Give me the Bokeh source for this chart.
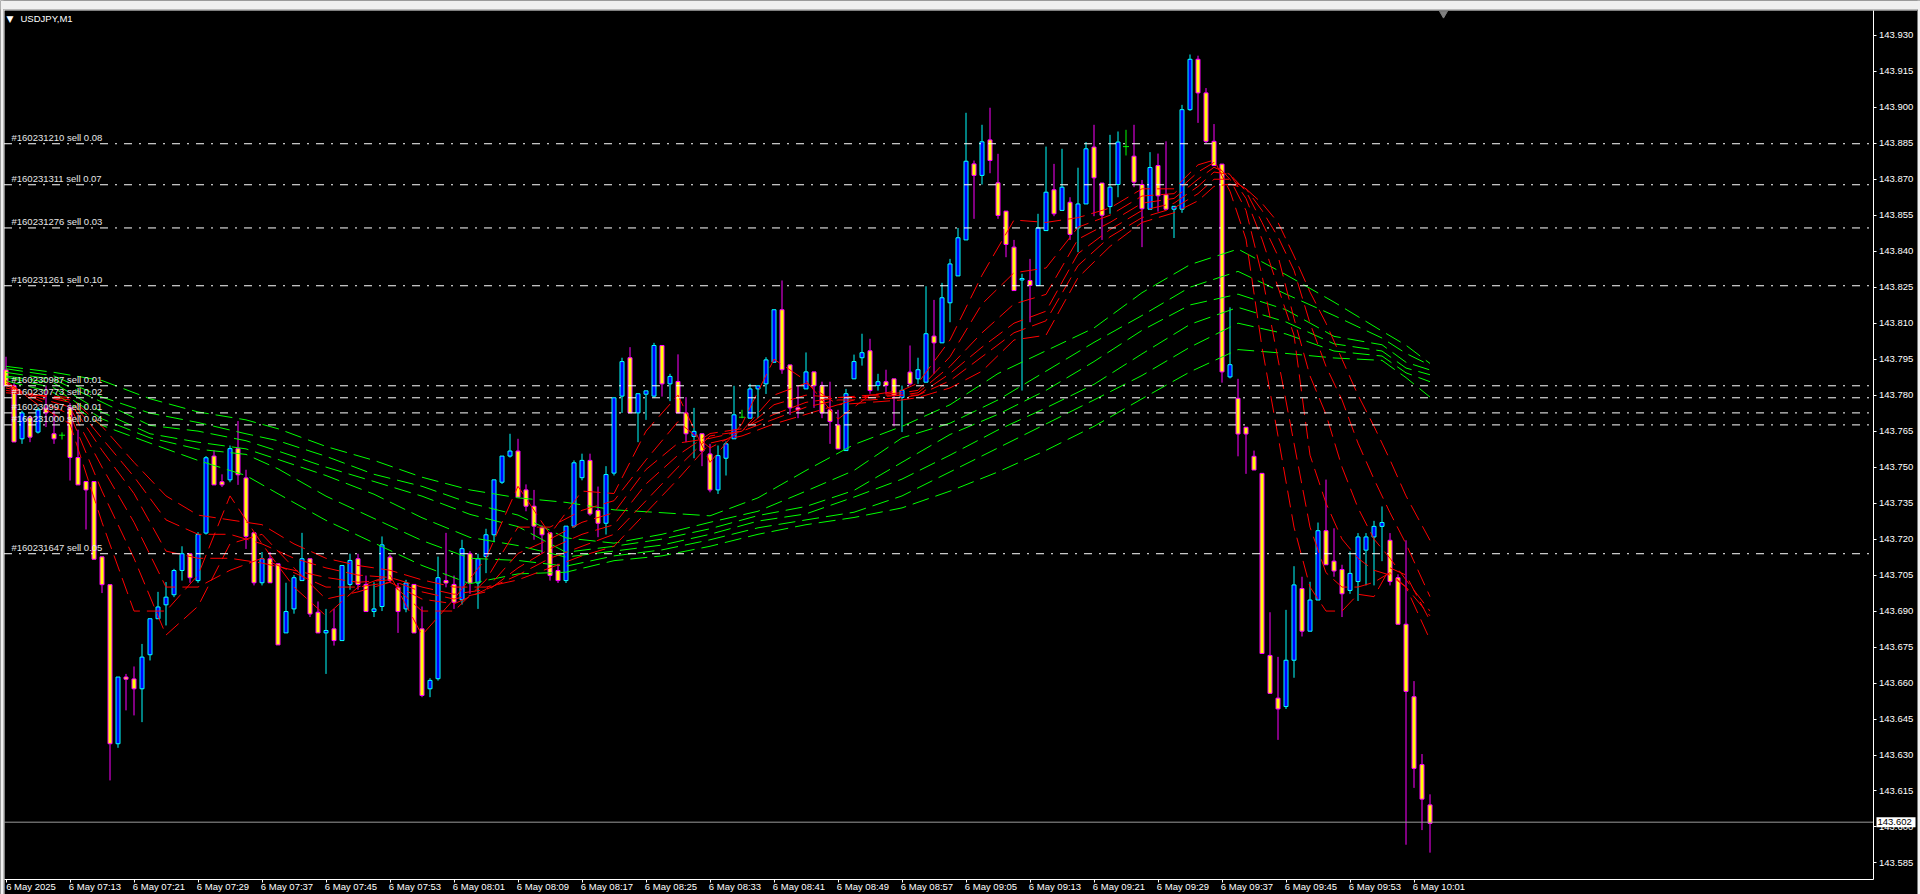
from bokeh.plotting import figure
from bokeh.models import (Range1d, FixedTicker, PrintfTickFormatter, Label, LinearAxis,
                          BoxAnnotation)
from bokeh.models import ColumnDataSource
from bokeh.embed import file_html
from bokeh.resources import INLINE

# ---------------- DATA ----------------
symbol_title = "USDJPY,M1"

opens = [
143.7905,143.7840,143.7618,143.7706,143.7646,143.7746,143.7639,143.7633,143.7747,143.7540,
143.7440,143.7440,143.7126,143.7010,143.6347,143.6625,143.6617,143.6576,143.6718,143.6868,
143.6926,143.6968,143.7069,143.7139,143.7027,143.7225,143.7546,143.7439,143.7447,143.7577,
143.7455,143.7226,143.7018,143.7118,143.7097,143.6809,143.6909,143.7027,143.7118,143.6895,
143.6809,143.6826,143.6777,143.7011,143.7118,143.7011,143.6898,143.6919,143.7125,143.6997,
143.6909,143.7011,143.6826,143.6576,143.6618,143.7027,143.7011,143.6947,143.7139,143.7017,
143.7127,143.7218,143.7437,143.7546,143.7567,143.7405,143.7337,143.7247,143.7226,143.7069,
143.7027,143.7254,143.7456,143.7528,143.7319,143.7266,143.7475,143.7796,143.7956,143.7726,
143.7804,143.7796,143.8007,143.7847,143.7857,143.7726,143.7628,143.7639,143.7555,143.7405,
143.7537,143.7618,143.7708,143.7704,143.7826,143.7847,143.7937,143.8156,143.7926,143.7747,
143.7826,143.7897,143.7839,143.7739,143.7676,143.7569,143.7868,143.7956,143.7985,143.7840,
143.7856,143.7868,143.7790,143.7896,143.7868,143.7854,143.8046,143.8018,143.8185,143.8297,
143.8447,143.8764,143.8716,143.8864,143.8685,143.8567,143.8417,143.8280,143.8278,143.8257,
143.8486,143.8656,143.8570,143.8604,143.8497,143.8597,143.8834,143.8684,143.8586,143.8678,
143.8836,143.8796,143.8678,143.8575,143.8757,143.8635,143.8575,143.8575,143.8990,143.9200,
143.9060,143.8858,143.8763,143.7876,143.7787,143.7666,143.7545,143.7474,143.6715,143.6537,
143.6502,143.6695,143.6994,143.6816,143.6946,143.7235,143.7108,143.7073,143.6986,143.7023,
143.7154,143.7209,143.7253,143.7195,143.7039,143.6845,143.6543,143.6260,143.6092]

highs = [
143.7960,143.7850,143.7735,143.7715,143.7750,143.7840,143.7735,143.7645,143.7767,143.7656,
143.7440,143.7440,143.7126,143.7010,143.6625,143.6638,143.6669,143.6763,143.6868,143.6980,
143.7021,143.7076,143.7170,143.7139,143.7229,143.7546,143.7570,143.7470,143.7590,143.7692,
143.7489,143.7226,143.7146,143.7146,143.7097,143.7018,143.7050,143.7226,143.7118,143.6940,
143.6909,143.6909,143.7090,143.7139,143.7139,143.7048,143.7020,143.7211,143.7135,143.7017,
143.7030,143.7011,143.6919,143.6620,143.7127,143.7226,143.7048,143.7197,143.7150,143.7139,
143.7243,143.7447,143.7546,143.7639,143.7618,143.7428,143.7405,143.7257,143.7226,143.7097,
143.7254,143.7528,143.7556,143.7556,143.7419,143.7504,143.7789,143.7956,143.8000,143.7806,
143.7818,143.8018,143.8007,143.7889,143.7970,143.7792,143.7747,143.7639,143.7597,143.7590,
143.7607,143.7839,143.7739,143.7847,143.7839,143.7958,143.8156,143.8278,143.7926,143.7839,
143.7978,143.7897,143.7856,143.7856,143.7739,143.7826,143.7969,143.8056,143.8035,143.7889,
143.7906,143.7868,143.7840,143.8007,143.7956,143.8254,143.8197,143.8268,143.8368,143.8497,
143.8977,143.8778,143.8927,143.8998,143.8806,143.8567,143.8447,143.8306,143.8368,143.8556,
143.8836,143.8764,143.8827,143.8625,143.8748,143.8855,143.8927,143.8684,143.8885,143.8899,
143.8906,143.8927,143.8697,143.8813,143.8807,143.8858,143.8587,143.9010,143.9220,143.9215,
143.9080,143.8930,143.8763,143.8166,143.7868,143.7666,143.7569,143.7474,143.6895,143.6709,
143.6905,143.7087,143.7043,143.7022,143.7269,143.7448,143.7245,143.7093,143.7148,143.7225,
143.7225,143.7276,143.7336,143.7225,143.7053,143.7195,143.6608,143.6304,143.6136]

lows = [
143.7840,143.7605,143.7597,143.7604,143.7640,143.7667,143.7597,143.7615,143.7444,143.7426,
143.7240,143.7115,143.6975,143.6194,143.6330,143.6486,143.6465,143.6437,143.6694,143.6868,
143.6840,143.6958,143.7027,143.7018,143.7018,143.7219,143.7426,143.7417,143.7437,143.7426,
143.7159,143.7007,143.7007,143.7018,143.6759,143.6809,143.6889,143.7027,143.6875,143.6809,
143.6638,143.6756,143.6777,143.6989,143.6989,143.6898,143.6875,143.6900,143.7020,143.6809,
143.6895,143.6809,143.6541,143.6541,143.6610,143.6999,143.6909,143.6927,143.6972,143.6909,
143.7058,143.7187,143.7430,143.7540,143.7375,143.7316,143.7197,143.7139,143.7027,143.7017,
143.7017,143.7247,143.7445,143.7298,143.7208,143.7219,143.7465,143.7726,143.7726,143.7604,
143.7697,143.7790,143.7794,143.7775,143.7726,143.7604,143.7537,143.7504,143.7395,143.7388,
143.7465,143.7618,143.7704,143.7704,143.7704,143.7805,143.7937,143.7889,143.7718,143.7704,
143.7826,143.7747,143.7704,143.7597,143.7576,143.7569,143.7868,143.7923,143.7806,143.7819,
143.7806,143.7670,143.7646,143.7840,143.7847,143.7854,143.7889,143.8018,143.8104,143.8297,
143.8447,143.8535,143.8678,143.8725,143.8535,143.8375,143.8236,143.7819,143.8104,143.8257,
143.8486,143.8546,143.8570,143.8447,143.8396,143.8597,143.8546,143.8447,143.8556,143.8625,
143.8799,143.8667,143.8417,143.8575,143.8565,143.8575,143.8455,143.8560,143.8985,143.8935,
143.8850,143.8757,143.7852,143.7870,143.7545,143.7472,143.7488,143.6723,143.6557,143.6363,
143.6492,143.6622,143.6794,143.6816,143.6946,143.7093,143.7043,143.6875,143.6972,143.6942,
143.7007,143.7007,143.7108,143.7007,143.6845,143.5926,143.6163,143.5987,143.5893]

closes = [
143.7840,143.7605,143.7726,143.7625,143.7738,143.7726,143.7618,143.7633,143.7540,143.7426,
143.7405,143.7116,143.7010,143.6347,143.6625,143.6616,143.6576,143.6708,143.6868,143.6917,
143.6958,143.7069,143.7139,143.7039,143.7219,143.7539,143.7426,143.7426,143.7577,143.7468,
143.7211,143.7018,143.7118,143.7018,143.6759,143.6898,143.7039,143.7118,143.6888,143.6809,
143.6819,143.6777,143.7090,143.7111,143.7011,143.6898,143.6909,143.7176,143.7027,143.6898,
143.7017,143.6809,143.6548,143.6611,143.7039,143.7017,143.6937,143.7160,143.7017,143.7118,
143.7218,143.7447,143.7546,143.7567,143.7375,143.7337,143.7254,143.7218,143.7048,143.7027,
143.7254,143.7518,143.7528,143.7305,143.7266,143.7469,143.7789,143.7940,143.7726,143.7806,
143.7818,143.8007,143.7847,143.7878,143.7726,143.7639,143.7649,143.7567,143.7405,143.7548,
143.7597,143.7718,143.7708,143.7826,143.7839,143.7947,143.8156,143.7906,143.7747,143.7739,
143.7897,143.7839,143.7726,143.7690,143.7576,143.7806,143.7940,143.7977,143.7819,143.7856,
143.7840,143.7799,143.7820,143.7847,143.7906,143.8056,143.8018,143.8206,143.8347,143.8456,
143.8775,143.8716,143.8856,143.8778,143.8549,143.8428,143.8236,143.8286,143.8257,143.8497,
143.8646,143.8556,143.8667,143.8470,143.8597,143.8827,143.8706,143.8550,143.8667,143.8855,
143.8836,143.8688,143.8577,143.8749,143.8631,143.8575,143.8587,143.8990,143.9200,143.9060,
143.8858,143.8757,143.7897,143.7927,143.7638,143.7638,143.7488,143.6723,143.6557,143.6492,
143.6695,143.7009,143.6816,143.6946,143.7235,143.7093,143.7067,143.6972,143.7057,143.7209,
143.7209,143.7253,143.7269,143.7023,143.6845,143.6565,143.6244,143.6116,143.6015]

time_labels = ["6 May 2025", "6 May 07:13", "6 May 07:21", "6 May 07:29", "6 May 07:37",
               "6 May 07:45", "6 May 07:53", "6 May 08:01", "6 May 08:09", "6 May 08:17",
               "6 May 08:25", "6 May 08:33", "6 May 08:41", "6 May 08:49", "6 May 08:57",
               "6 May 09:05", "6 May 09:13", "6 May 09:21", "6 May 09:29", "6 May 09:37",
               "6 May 09:45", "6 May 09:53", "6 May 10:01"]
time_tick_bars = [0, 8, 16, 24, 32, 40, 48, 56, 64, 72, 80, 88, 96, 104, 112, 120,
                  128, 136, 144, 152, 160, 168, 176]

price_ticks = [143.585, 143.600, 143.615, 143.630, 143.645, 143.660, 143.675, 143.690,
               143.705, 143.720, 143.735, 143.750, 143.765, 143.780, 143.795, 143.810,
               143.825, 143.840, 143.855, 143.870, 143.885, 143.900, 143.915, 143.930]

order_prices = [143.8848, 143.8677, 143.8497, 143.8256, 143.7839, 143.7789,
                143.7726, 143.7676, 143.7139]
order_texts = ["#160231210 sell 0.08", "#160231311 sell 0.07", "#160231276 sell 0.03",
               "#160231261 sell 0.10", "#160230987 sell 0.01", "#160230773 sell 0.02",
               "#160230997 sell 0.01", "#160231000 sell 0.04", "#160231647 sell 0.05"]

current_price = 143.602

# short (red) moving averages, sampled at bar indices
red_idx = [0,4,8,12,16,20,24,28,32,36,40,44,48,52,56,60,64,68,72,76,80,84,88,92,96,100,104,
           108,112,114,118,122,126,130,134,138,142,146,149,151,153,155,157,159,161,163,165,
           167,169,171,173,175,178]
red_1 = [143.786,143.776,143.768,143.727,143.690,143.690,143.705,143.738,143.718,143.700,143.688,
         143.700,143.705,143.680,143.695,143.712,143.742,143.722,143.740,143.739,143.765,143.780,
         143.752,143.768,143.795,143.786,143.770,143.780,143.782,143.785,143.803,143.830,143.853,
         143.852,143.854,143.858,143.866,143.866,143.876,143.878,143.865,143.845,143.800,143.763,
         143.725,143.700,143.690,143.690,143.697,143.696,143.708,143.705,143.686]
red_2 = [143.785,143.778,143.772,143.740,143.712,143.680,143.692,143.718,143.722,143.708,143.695,
         143.698,143.702,143.690,143.690,143.703,143.725,143.725,143.732,143.736,143.753,143.769,
         143.758,143.765,143.780,143.785,143.776,143.780,143.781,143.782,143.796,143.818,143.831,
         143.833,143.850,143.855,143.863,143.864,143.873,143.877,143.870,143.857,143.830,143.795,
         143.760,143.725,143.706,143.700,143.700,143.702,143.706,143.700,143.678]
red_3 = [143.784,143.779,143.775,143.750,143.727,143.700,143.700,143.707,143.712,143.706,143.700,
         143.700,143.702,143.695,143.693,143.699,143.714,143.720,143.727,143.731,143.749,143.760,
         143.762,143.765,143.776,143.780,143.779,143.780,143.780,143.781,143.792,143.806,143.818,
         143.822,143.845,143.852,143.860,143.862,143.870,143.875,143.872,143.862,143.845,143.825,
         143.805,143.755,143.735,143.720,143.712,143.707,143.705,143.700,143.688]
red_4 = [143.783,143.780,143.777,143.757,143.739,143.715,143.712,143.712,143.710,143.707,143.704,
         143.702,143.703,143.698,143.695,143.698,143.708,143.716,143.722,143.726,143.743,143.755,
         143.764,143.766,143.772,143.777,143.779,143.779,143.780,143.780,143.789,143.800,143.810,
         143.815,143.839,143.849,143.857,143.860,143.867,143.873,143.872,143.865,143.852,143.838,
         143.812,143.788,143.772,143.750,143.733,143.720,143.712,143.703,143.690]
red_5 = [143.782,143.780,143.778,143.762,143.746,143.728,143.722,143.722,143.718,143.712,143.708,
         143.705,143.704,143.700,143.697,143.699,143.705,143.712,143.717,143.722,143.736,143.750,
         143.763,143.765,143.770,143.775,143.778,143.778,143.779,143.780,143.786,143.796,143.806,
         143.811,143.834,143.846,143.854,143.858,143.864,143.870,143.870,143.866,143.857,143.846,
         143.832,143.810,143.792,143.778,143.760,143.745,143.731,143.718,143.696]
red_6 = [143.781,143.780,143.779,143.767,143.752,143.738,143.730,143.728,143.726,143.718,143.712,
         143.709,143.707,143.703,143.700,143.700,143.703,143.708,143.713,143.717,143.731,143.745,
         143.760,143.763,143.768,143.772,143.776,143.777,143.778,143.779,143.783,143.790,143.803,
         143.805,143.829,143.842,143.852,143.856,143.861,143.867,143.868,143.866,143.860,143.852,
         143.838,143.823,143.810,143.795,143.780,143.767,143.753,143.738,143.7195]

# long (green) moving averages, sampled at bar indices
green_idx = [0,6,12,18,24,30,34,40,46,52,58,64,70,76,82,88,94,100,106,112,118,124,130,136,
             142,148,154,160,166,172,175,178]
green_1 = [143.792,143.7895,143.7861,143.7785,143.773,143.7697,143.766,143.7586,143.7528,143.7458,
           143.7405,143.7372,143.7353,143.7322,143.731,143.7297,143.7372,143.7486,143.7594,143.767,
           143.776,143.789,143.7985,143.808,143.8227,143.8344,143.8409,143.8302,143.8188,143.8067,
           143.8008,143.7932]
green_2 = [143.791,143.788,143.7792,143.7725,143.7686,143.7639,143.761,143.7545,143.747,143.742,
           143.735,143.730,143.7205,143.7183,143.722,143.727,143.7316,143.740,143.7486,143.7622,
           143.7683,143.778,143.790,143.802,143.8132,143.825,143.8316,143.8221,143.8132,143.8038,
           143.7974,143.7925]
green_3 = [143.7895,143.7865,143.7771,143.7674,143.765,143.761,143.7567,143.750,143.744,143.7379,
           143.7303,143.7252,143.7145,143.717,143.720,143.7243,143.7298,143.7336,143.7403,143.752,
           143.7636,143.772,143.782,143.794,143.807,143.8176,143.8221,143.8156,143.8045,143.801,
           143.7937,143.7905]
green_4 = [143.788,143.785,143.7729,143.7639,143.7604,143.7576,143.7532,143.7465,143.7387,143.7289,
           143.7207,143.7173,143.7125,143.715,143.7175,143.722,143.7275,143.7305,143.7375,143.745,
           143.755,143.7655,143.7747,143.7845,143.7972,143.8095,143.8166,143.8105,143.8014,143.7984,
           143.7913,143.7885]
green_5 = [143.7875,143.783,143.7701,143.7622,143.7575,143.7553,143.7493,143.7379,143.7286,143.7194,
           143.712,143.7111,143.7087,143.713,143.7155,143.7197,143.7247,143.728,143.7312,143.738,
           143.748,143.758,143.768,143.778,143.7882,143.800,143.810,143.8055,143.7984,143.7963,
           143.7893,143.7856]
green_6 = [143.786,143.781,143.7674,143.760,143.7528,143.7465,143.7389,143.7278,143.7184,143.709,
           143.7014,143.7055,143.7062,143.711,143.713,143.717,143.722,143.726,143.729,143.733,
           143.740,143.748,143.757,143.767,143.7785,143.7897,143.799,143.7974,143.7955,143.7945,
           143.7873,143.7792]

# ---------------- LAYOUT (canvas = whole window, axes fixed inside) ----------------
W, H = 1920, 894
PX_PER_BAR = 8.0
PX_PER_PRICE = 2399.0
x_start = -5.5 / PX_PER_BAR                 # bar 0 centred 5.5 px from the left
y_top = 143.930 + 34.8 / PX_PER_PRICE        # 143.930 sits 34.8 px from the top


def X(px):
    return x_start + px / PX_PER_BAR


def Y(py):
    return y_top - py / PX_PER_PRICE


chart_left, chart_right = X(3.5), X(1872.5)
chart_top, chart_bottom = Y(9.5), Y(878.5)

FONT = "Liberation Sans"
FS = "9.5px"

p = figure(width=W, height=H, x_range=Range1d(X(0), X(W)), y_range=Range1d(Y(H), Y(0)),
           x_axis_location=None, y_axis_location=None,
           output_backend="svg", toolbar_location=None,
           min_border_left=0, min_border_top=0, min_border_right=0, min_border_bottom=0)
p.background_fill_color = "black"
p.border_fill_color = "black"
p.outline_line_color = None
p.grid.visible = False

# window chrome around the chart
p.quad(left=[X(0)], right=[X(W)], bottom=[Y(9)], top=[Y(0)], fill_color="#F0F0F0", line_color=None)
p.quad(left=[X(0)], right=[X(3)], bottom=[Y(H)], top=[Y(0)], fill_color="#F0F0F0", line_color=None)
p.quad(left=[X(1917)], right=[X(W)], bottom=[Y(H)], top=[Y(0)], fill_color="#F0F0F0", line_color=None)
p.segment(x0=[chart_left, chart_left], y0=[chart_top, Y(H)], x1=[X(1916.5), chart_left],
          y1=[chart_top, chart_top], line_color="#FFFFFF", line_width=1)

# ---------------- CANDLES ----------------
n = len(closes)
idx = list(range(n))
kind = ["up" if c > o else ("down" if c < o else "doji") for o, c in zip(opens, closes)]
wick_color = {"up": "#00FFFF", "down": "#FF00FF", "doji": "#00FF00"}
fill_color = {"up": "#0000FF", "down": "#FFFF00"}

wsrc = ColumnDataSource(dict(x=idx, lo=lows, hi=highs, col=[wick_color[k] for k in kind]))
p.segment(x0="x", y0="lo", x1="x", y1="hi", line_color="col", line_width=1, source=wsrc)

bi = [i for i in idx if kind[i] != "doji"]
bsrc = ColumnDataSource(dict(
    x=bi,
    top=[max(opens[i], closes[i]) for i in bi],
    bottom=[min(opens[i], closes[i]) for i in bi],
    fill=[fill_color[kind[i]] for i in bi],
    line=[wick_color[kind[i]] for i in bi]))
p.vbar(x="x", top="top", bottom="bottom", width=0.5, fill_color="fill",
       line_color="line", line_width=1, source=bsrc)

di = [i for i in idx if kind[i] == "doji"]
p.scatter(x=di, y=[closes[i] for i in di], marker="dash", size=6,
          line_color="#00FF00", line_width=1)

# ---------------- MOVING AVERAGES ----------------
for ys in (green_1, green_2, green_3, green_4, green_5, green_6):
    p.line(green_idx, ys, line_color="#00FF00", line_width=1, line_dash="17 7")
for ys in (red_1, red_2, red_3, red_4, red_5, red_6):
    p.line(red_idx, ys, line_color="#FF0000", line_width=1, line_dash="17 7")

# ---------------- ORDER LINES ----------------
k = len(order_prices)
p.segment(x0=[chart_left] * k, x1=[chart_right] * k, y0=order_prices, y1=order_prices,
          line_color="#FFFFFF", line_width=1, line_dash="8 7 2 7")
p.segment(x0=[chart_left], x1=[chart_right], y0=[current_price], y1=[current_price],
          line_color="#9a9a9a", line_width=1)

# ---------------- AXES (fixed at chart edges) ----------------
yax = LinearAxis(fixed_location=chart_right, bounds=(chart_bottom, chart_top),
                 ticker=FixedTicker(ticks=price_ticks),
                 formatter=PrintfTickFormatter(format="%.3f"))
yax.axis_line_color = "white"
yax.major_tick_line_color = "white"
yax.major_tick_out = 3
yax.major_tick_in = 0
yax.minor_tick_line_color = None
yax.major_label_text_color = "white"
yax.major_label_text_font = FONT
yax.major_label_text_font_size = FS
yax.major_label_standoff = 3
p.add_layout(yax, "right")

xax = LinearAxis(fixed_location=chart_bottom, bounds=(chart_left, chart_right),
                 ticker=FixedTicker(ticks=time_tick_bars))
xax.major_label_overrides = {t: "" for t in time_tick_bars}
xax.major_label_text_alpha = 0
xax.axis_line_color = "white"
xax.major_tick_line_color = "white"
xax.major_tick_out = 3
xax.major_tick_in = 0
xax.minor_tick_line_color = None
p.add_layout(xax, "below")

# labels start at their tick (MT4 style): a label-only axis shifted by half a label width
label_pos = [t + 3.125 for t in time_tick_bars]
xlab = LinearAxis(fixed_location=chart_bottom, bounds=(chart_left, chart_right),
                  ticker=FixedTicker(ticks=label_pos))
xlab.major_label_overrides = {pos: lab for pos, lab in zip(label_pos, time_labels)}
xlab.axis_line_color = None
xlab.major_tick_line_color = None
xlab.minor_tick_line_color = None
xlab.major_tick_out = 0
xlab.major_tick_in = 0
xlab.major_label_standoff = 2
xlab.major_label_text_color = "white"
xlab.major_label_text_font = FONT
xlab.major_label_text_font_size = FS
p.add_layout(xlab, "below")

# ---------------- TEXTS ----------------
for pr, tx in zip(order_prices, order_texts):
    p.add_layout(Label(x=X(11), y=pr + 1 / PX_PER_PRICE, text=tx,
                       text_color="#E6E6E6", text_font=FONT, text_font_size=FS,
                       text_baseline="bottom", text_align="left"))

# current price tag on the price scale
p.add_layout(BoxAnnotation(left=X(1876), right=X(1915), bottom=current_price - 5 / PX_PER_PRICE,
                           top=current_price + 5 / PX_PER_PRICE, fill_color="white",
                           fill_alpha=1.0, line_color=None))
p.add_layout(Label(x=X(1877), y=current_price, text="%.3f" % current_price,
                   text_color="black", text_font=FONT, text_font_size=FS,
                   text_baseline="middle", text_align="left"))

# chart title and chart-shift marker
p.add_layout(Label(x=X(6), y=Y(18), text="\u25BC", text_color="white",
                   text_font="DejaVu Sans", text_font_size="9px",
                   text_baseline="middle", text_align="left"))
p.add_layout(Label(x=X(20), y=Y(18), text=symbol_title, text_color="white",
                   text_font=FONT, text_font_size=FS, text_baseline="middle", text_align="left"))
p.scatter(x=[X(1443)], y=[Y(13)], marker="inverted_triangle", size=8,
          fill_color="#808080", line_color="#808080")

open("out.html", "w").write(file_html(p, INLINE, "USDJPY,M1"))
